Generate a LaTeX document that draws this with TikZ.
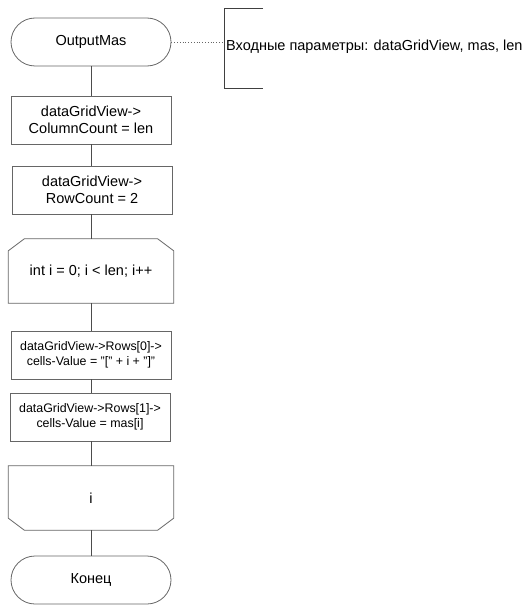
\documentclass[tikz,border=0pt]{standalone}
\usepackage{fontspec}
\setmainfont{Liberation Sans}
\usetikzlibrary{calc}

\tikzset{
  blk/.style={draw=black!60, thick, minimum width=160pt, minimum height=48pt, align=center, inner sep=2pt},
  term/.style={blk, rounded corners=24pt},
  smalltxt/.style={font=\fontsize{12.4}{15.5}\selectfont},
  loopshape/.style={minimum width=165pt, minimum height=64pt, align=center, inner sep=2pt},
  conn/.style={draw=black!70, thick}
}

\begin{document}
\begin{tikzpicture}[x=1pt, y=-1pt, font=\fontsize{14.5}{17}\selectfont]
            \useasboundingbox (0,0) rectangle (528,615);
            \node[term] (start) at (91,42) {OutputMas};
            \node[blk] (colcnt) at (91,120) {dataGridView->\\ColumnCount = len};
            \node[blk] (rowcnt) at (92,190) {dataGridView->\\RowCount = 2};
            \node[loopshape] (loopbeg) at (91,271) {int i = 0; i < len; i++};
            \draw[blk] (loopbeg.south west) -- ($(loopbeg.north west)+(0,12)$) -- ($(loopbeg.north west)+(16,0)$)
              -- ($(loopbeg.north east)+(-16,0)$) -- ($(loopbeg.north east)+(0,12)$) -- (loopbeg.south east) -- cycle;
            \node[blk, smalltxt] (rowzero) at (91,355) {dataGridView->Rows[0]->\\cells-Value = "[" + i + "]"};
            \node[blk, smalltxt] (rowone) at (90,417) {dataGridView->Rows[1]->\\cells-Value = mas[i]};
            \node[loopshape] (loopend) at (91,498) {i};
            \draw[blk] (loopend.north west) -- ($(loopend.south west)+(0,-12)$) -- ($(loopend.south west)+(16,0)$)
              -- ($(loopend.south east)+(-16,0)$) -- ($(loopend.south east)+(0,-12)$) -- (loopend.north east) -- cycle;
            \node[term] (finish) at (91,580) {Конец};
            % connectors
            \draw[conn] (start.south) -- (colcnt.north);
            \draw[conn] (colcnt.south) -- (rowcnt.north -| colcnt.south);
            \draw[conn] (rowcnt.south -| colcnt.south) -- (loopbeg.north);
            \draw[conn] (loopbeg.south) -- (rowzero.north);
            \draw[conn] (rowzero.south) -- (rowzero.south |- rowone.north);
            \draw[conn] (rowzero.south |- rowone.south) -- (loopend.north);
            \draw[conn] (loopend.south) -- (finish.north);
            % comment
            \coordinate (brk) at (224,42);
            \draw[black!75, thick] (263,8) -- (224,8) -- (224,88) -- (263,88);
            \draw[black!60, thick, dotted] (start.east) -- (brk);
            \node[anchor=west, inner sep=0pt] (cmt) at (226,47) {Входные параметры: dataGridView, mas, len};
          \end{tikzpicture}
\end{document}
